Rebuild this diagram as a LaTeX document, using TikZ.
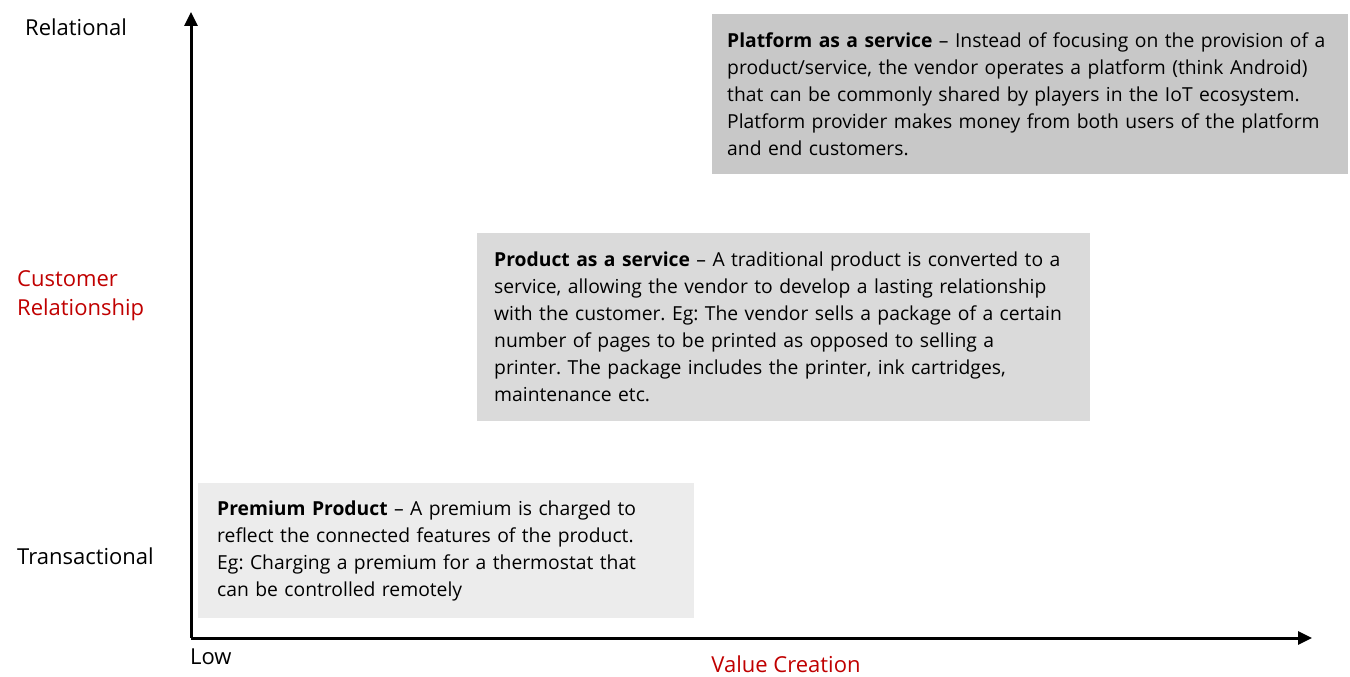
\documentclass[tikz,border=0pt]{standalone}
\usepackage{fontspec}
\setmainfont{Open Sans}
\usetikzlibrary{arrows.meta}
\frenchspacing
\definecolor{axisred}{HTML}{C00000}
\definecolor{boxhigh}{HTML}{C8C8C8}
\definecolor{boxmid}{HTML}{DADADA}
\definecolor{boxlow}{HTML}{ECECEC}
\tikzset{
  txt/.style={font=\fontsize{22}{29}\selectfont, inner sep=0pt},
  quad/.style={anchor=north west, align=left, inner ysep=0pt,
    font=\fontsize{19.3}{27}\selectfont},
  axis/.style={line width=3pt, -{Triangle[width=13pt,length=14pt]}},
}
\begin{document}
\begin{tikzpicture}[x=1pt,y=-1pt]
\useasboundingbox (0,0) rectangle (1350,677);

% axes
\coordinate (o) at (191,638);
\coordinate (ytip) at (191,12);
\coordinate (xtip) at (1312,638);
\draw[axis] (o) -- (ytip);
\draw[axis] (o) -- (xtip);

% quadrant boxes
\node[quad, fill=boxhigh, inner xsep=15pt, text width=606pt, minimum height=160pt] (paas) at (712,14)
  {\textbf{Platform as a service} -- Instead of focusing on the provision of a\\
   product/service, the vendor operates a platform (think Android)\\
   that can be commonly shared by players in the IoT ecosystem.\\
   Platform provider makes money from both users of the platform\\
   and end customers.};
\node[quad, fill=boxmid, inner xsep=17pt, text width=579pt, minimum height=188pt] (prod) at (477,233)
  {\textbf{Product as a service} -- A traditional product is converted to a\\
   service, allowing the vendor to develop a lasting relationship\\
   with the customer. Eg: The vendor sells a package of a certain\\
   number of pages to be printed as opposed to selling a\\
   printer. The package includes the printer, ink cartridges,\\
   maintenance etc.};
\node[quad, fill=boxlow, inner xsep=19pt, text width=458pt, minimum height=135pt] (prem) at (198,483)
  {\textbf{Premium Product} -- A premium is charged to\\
   reflect the connected features of the product.\\
   Eg: Charging a premium for a thermostat that\\
   can be controlled remotely};

% axis labels
\node[txt, anchor=west] (rel) at (25,27) {Relational};
\node[txt, anchor=west, align=left, text=axisred] (cr) at (17,296) {Customer\\Relationship};
\node[txt, anchor=west] (trans) at (17,556) {Transactional};
\node[txt, anchor=west] (low) at (190,657) {Low};
\node[txt, text=axisred] (vc) at (786,664) {Value Creation};
\end{tikzpicture}
\end{document}
